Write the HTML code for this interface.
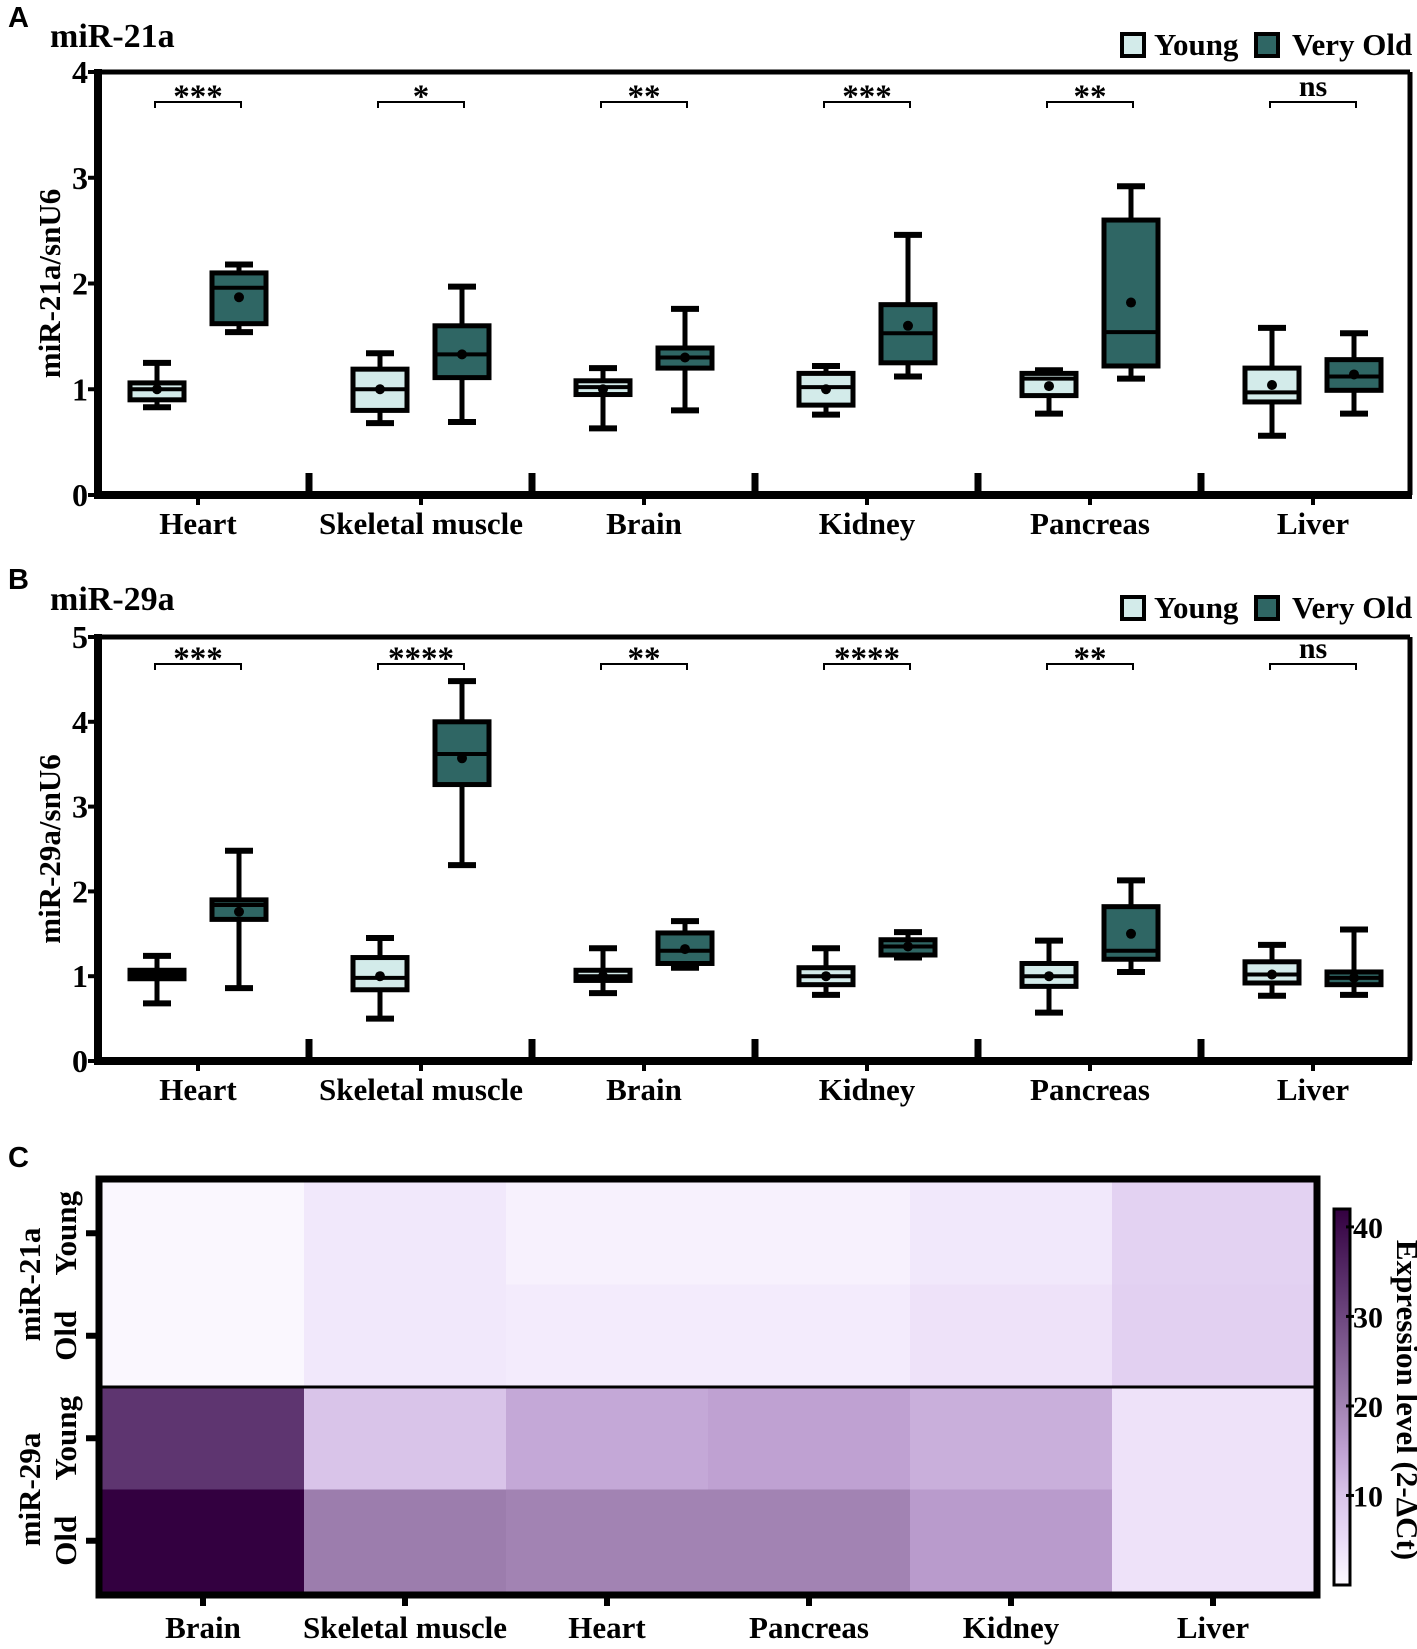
<!DOCTYPE html>
<html><head><meta charset="utf-8"><style>
html,body{margin:0;padding:0;background:#fff}
svg{display:block}
text{font-family:"Liberation Serif",serif;font-weight:bold;fill:#000}
.sans{font-family:"Liberation Sans",sans-serif}
</style></head><body>
<svg id="fig" width="1417" height="1649" viewBox="0 0 1417 1649" xmlns="http://www.w3.org/2000/svg">
<g id="gA"></g>
<g id="gB"></g>
<g id="gC"></g>
</svg>
<script>
const categories = ["Heart","Skeletal muscle","Brain","Kidney","Pancreas","Liver"];
// [whiskerLow, q1, median, q3, whiskerHigh, mean]
const a_young = [[0.83,0.90,1.00,1.06,1.25,1.0],[0.68,0.80,1.00,1.19,1.34,1.0],[0.63,0.95,1.02,1.08,1.20,1.0],[0.76,0.85,1.02,1.15,1.22,1.0],[0.77,0.94,1.10,1.15,1.18,1.03],[0.56,0.88,0.97,1.20,1.58,1.04]];
const a_old = [[1.54,1.62,1.96,2.10,2.18,1.87],[0.69,1.11,1.33,1.60,1.97,1.33],[0.80,1.20,1.30,1.39,1.76,1.30],[1.12,1.25,1.53,1.80,2.46,1.60],[1.10,1.22,1.54,2.60,2.92,1.82],[0.77,0.99,1.12,1.28,1.53,1.14]];
const a_sig = ["***","*","**","***","**","ns"];
const a_ticks = [0,1,2,3,4];
const b_young = [[0.68,0.97,1.02,1.07,1.24,1.0],[0.50,0.84,0.98,1.22,1.45,1.0],[0.80,0.95,1.00,1.07,1.33,1.0],[0.78,0.90,1.00,1.10,1.33,1.0],[0.57,0.88,1.00,1.15,1.42,1.0],[0.77,0.92,1.02,1.17,1.37,1.02]];
const b_old = [[0.86,1.67,1.84,1.90,2.48,1.76],[2.31,3.26,3.62,4.00,4.48,3.57],[1.10,1.15,1.30,1.51,1.65,1.32],[1.22,1.25,1.35,1.43,1.52,1.35],[1.05,1.20,1.30,1.82,2.13,1.50],[0.78,0.90,0.98,1.05,1.55,0.98]];
const b_sig = ["***","****","**","****","**","ns"];
const b_ticks = [0,1,2,3,4,5];
const hm_cols = ["Brain","Skeletal muscle","Heart","Pancreas","Kidney","Liver"];
const hm_rows = ["Young","Old","Young","Old"];
const hm_groups = ["miR-21a","miR-29a"];
const hm_values = [[0.5,3,1.5,1.5,3,7],[0.5,3,2.5,2.5,4,7.5],[33,10,14,15,13,4],[42,21,20,20,16,4]];
const cb_ticks = [10,20,30,40];

const NS="http://www.w3.org/2000/svg";
function mk(parent,tag,attrs,txt){const e=document.createElementNS(NS,tag);for(const k in attrs)e.setAttribute(k,attrs[k]);if(txt!==undefined)e.textContent=txt;parent.appendChild(e);return e;}

function boxPanel(g,cfg){
  const {top,zero,ymax,young,old,sig,ticks,title,ytitle,letter,letterY,titleY,legendY,labelY,bracketY}=cfg;
  const L=98,R=1410;
  const y=v=>zero-(zero-top)*v/ymax;
  const cx=i=>198+223*i;
  let t=mk(g,'text',{x:8,y:letterY,'font-size':29,class:'sans'},letter);
  
  
  t=mk(g,'text',{x:50,y:titleY,'font-size':34},title);
  
  
  const lg=mk(g,'g',{});
  
  
  let r=mk(lg,'rect',{x:1122,y:legendY-11,width:22,height:22,fill:'#d3ebea',stroke:'#000','stroke-width':4});
  
  
  t=mk(lg,'text',{x:1154,y:legendY+10,'font-size':31},'Young');
  
  
  r=mk(lg,'rect',{x:1256,y:legendY-11,width:22,height:22,fill:'#2f6664',stroke:'#000','stroke-width':4});
  
  
  t=mk(lg,'text',{x:1292,y:legendY+10,'font-size':31},'Very Old');
  
  
  mk(g,'line',{x1:L,y1:top,x2:R,y2:top,stroke:'#000','stroke-width':5});
  mk(g,'line',{x1:R,y1:top,x2:R,y2:zero,stroke:'#000','stroke-width':5});
  let ax=mk(g,'line',{x1:L,y1:top-3,x2:L,y2:zero+4,stroke:'#000','stroke-width':8});
  
  
  ax=mk(g,'line',{x1:L-4,y1:zero,x2:R+2,y2:zero,stroke:'#000','stroke-width':8});
  
  
  ticks.forEach(v=>{
    mk(g,'line',{x1:L-10,y1:y(v),x2:L,y2:y(v),stroke:'#000','stroke-width':4});
    const tt=mk(g,'text',{x:L-10,y:y(v)+11,'font-size':32,'text-anchor':'end'},String(v));
    
    
  });
  const yt=mk(g,'text',{x:0,y:0,'font-size':31,'text-anchor':'middle',transform:`translate(60,${(top+zero)/2}) rotate(-90)`},ytitle);
  
  
  categories.forEach((c,i)=>{
    const x=cx(i);
    mk(g,'line',{x1:x,y1:zero,x2:x,y2:zero+10,stroke:'#000','stroke-width':4});
    if(i<categories.length-1) mk(g,'line',{x1:x+111,y1:zero,x2:x+111,y2:zero-22,stroke:'#000','stroke-width':7});
    const lt=mk(g,'text',{x:x,y:labelY,'font-size':31,'text-anchor':'middle'},c);
    
    
    [[young[i],x-41,'#d3ebea','young'],[old[i],x+41,'#2f6664','old']].forEach(([d,bx,fill,nm])=>{
      const bg=mk(g,'g',{});
      
      
      const w=54,cw=28;
      mk(bg,'line',{x1:bx,y1:y(d[0]),x2:bx,y2:y(d[4]),stroke:'#000','stroke-width':5});
      mk(bg,'line',{x1:bx-cw/2,y1:y(d[0]),x2:bx+cw/2,y2:y(d[0]),stroke:'#000','stroke-width':6});
      mk(bg,'line',{x1:bx-cw/2,y1:y(d[4]),x2:bx+cw/2,y2:y(d[4]),stroke:'#000','stroke-width':6});
      mk(bg,'rect',{x:bx-w/2,y:y(d[3]),width:w,height:Math.max(2,y(d[1])-y(d[3])),fill:fill,stroke:'#000','stroke-width':5});
      mk(bg,'line',{x1:bx-w/2,y1:y(d[2]),x2:bx+w/2,y2:y(d[2]),stroke:'#000','stroke-width':4});
      mk(bg,'circle',{cx:bx,cy:y(d[5]),r:5,fill:'#000'});
    });
    const sg=mk(g,'g',{});
    
    
    mk(sg,'path',{d:`M${x-43},${bracketY+6} V${bracketY} H${x+43} V${bracketY+6}`,fill:'none',stroke:'#000','stroke-width':2});
    const st=sig[i]==='ns';
    mk(sg,'text',{x:x,y:st?bracketY-6:bracketY+5,'font-size':st?30:33,'text-anchor':'middle'},sig[i]);
  });
}
boxPanel(document.getElementById('gA'),{top:72,zero:495,ymax:4,young:a_young,old:a_old,sig:a_sig,ticks:a_ticks,title:'miR-21a',ytitle:'miR-21a/snU6',letter:'A',letterY:27,titleY:47,legendY:45,labelY:534,bracketY:102});
boxPanel(document.getElementById('gB'),{top:637,zero:1061,ymax:5,young:b_young,old:b_old,sig:b_sig,ticks:b_ticks,title:'miR-29a',ytitle:'miR-29a/snU6',letter:'B',letterY:589,titleY:610,legendY:608,labelY:1100,bracketY:664});

(function(){
  const g=document.getElementById('gC');
  const L=102,R=1314,T=1182,B=1592;
  const cw=(R-L)/hm_cols.length, rh=(B-T)/hm_rows.length;
  const stops=[[0,[252,250,255]],[5,[234,220,248]],[10,[217,196,233]],[15,[191,161,210]],[21,[156,125,173]],[33,[94,53,112]],[42,[51,0,64]]];
  function col(v){
    for(let i=1;i<stops.length;i++){if(v<=stops[i][0]){const [a,ca]=stops[i-1],[b,cb]=stops[i];const t=(v-a)/(b-a);return 'rgb('+ca.map((c,k)=>Math.round(c+(cb[k]-c)*t)).join(',')+')';}}
    return 'rgb(51,0,64)';
  }
  let t=mk(g,'text',{x:8,y:1167,'font-size':29,class:'sans'},'C');
  
  
  hm_values.forEach((row,ri)=>row.forEach((v,ci)=>{
    const c=mk(g,'rect',{x:L+ci*cw,y:T+ri*rh,width:cw+0.5,height:rh+0.5,fill:col(v)});
    
    
  }));
  mk(g,'rect',{x:L-3,y:T-3,width:R-L+6,height:B-T+6,fill:'none',stroke:'#000','stroke-width':7});
  mk(g,'line',{x1:L,y1:T+2*rh,x2:R,y2:T+2*rh,stroke:'#000','stroke-width':3});
  hm_cols.forEach((c,i)=>{
    const x=L+(i+0.5)*cw;
    mk(g,'line',{x1:x,y1:B+3,x2:x,y2:B+14,stroke:'#000','stroke-width':6});
    const lt=mk(g,'text',{x:x,y:1638,'font-size':31,'text-anchor':'middle'},c);
    
    
  });
  hm_rows.forEach((r,i)=>{
    const yy=T+(i+0.5)*rh;
    mk(g,'line',{x1:L-16,y1:yy,x2:L-3,y2:yy,stroke:'#000','stroke-width':6});
    const lt=mk(g,'text',{x:0,y:0,'font-size':31,'text-anchor':'middle',transform:`translate(76,${yy}) rotate(-90)`},r);
    
    
  });
  hm_groups.forEach((gname,i)=>{
    const yy=T+(i*2+1)*rh;
    const lt=mk(g,'text',{x:0,y:0,'font-size':31,'text-anchor':'middle',transform:`translate(40,${yy}) rotate(-90)`},gname);
    
    
  });
  const cbx=1334,cbw=16,cbT=1209,cbB=1585,cbMax=42;
  const cy=v=>cbB-(cbB-cbT)*v/cbMax;
  const defs=mk(g,'defs',{});
  const lg=mk(defs,'linearGradient',{id:'cbg',x1:0,y1:1,x2:0,y2:0});
  stops.forEach(s=>mk(lg,'stop',{offset:s[0]/cbMax,'stop-color':'rgb('+s[1].join(',')+')'}));
  const cb=mk(g,'rect',{x:cbx,y:cbT,width:cbw,height:cbB-cbT,fill:'url(#cbg)',stroke:'#000','stroke-width':3});
  
  
  cb_ticks.forEach(v=>{
    mk(g,'line',{x1:cbx+cbw-4,y1:cy(v),x2:cbx+cbw+4,y2:cy(v),stroke:'#000','stroke-width':3});
    const lt=mk(g,'text',{x:cbx+cbw+3,y:cy(v)+11,'font-size':30},String(v));
    
    
  });
  const ct=mk(g,'text',{x:0,y:0,'font-size':31,'text-anchor':'middle',transform:`translate(1397,1400) rotate(90)`},'Expression level (2-ΔCt)');
  
  
})();
</script>
</body></html>
